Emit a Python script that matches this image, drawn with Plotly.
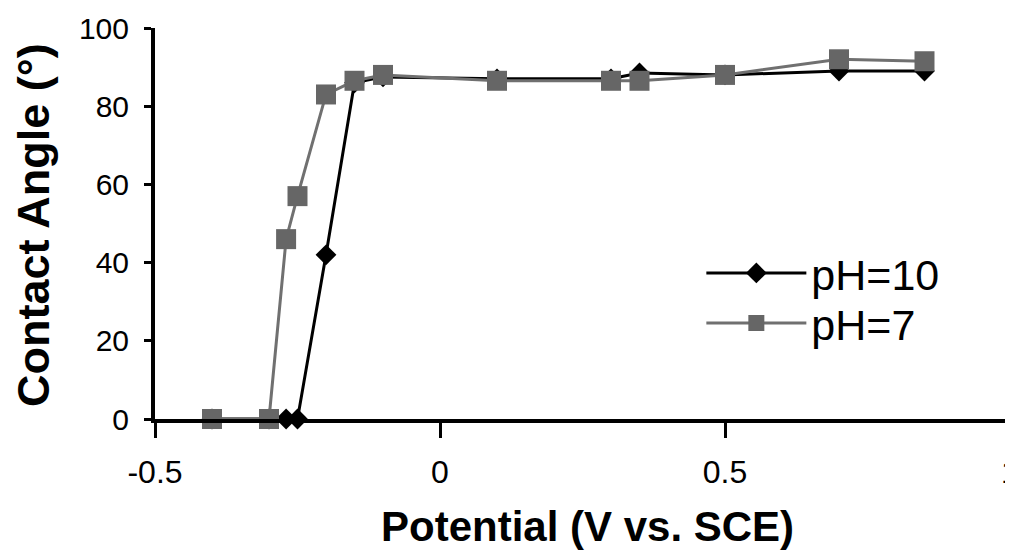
import plotly.graph_objects as go

# Data
potential_ph10 = [-0.4, -0.3, -0.27, -0.25, -0.2, -0.15, -0.1, 0.1, 0.3, 0.35, 0.5, 0.7, 0.85]
angle_ph10 = [0, 0, 0, 0, 42, 86, 87.5, 87, 87, 88.5, 88, 89, 89]

potential_ph7 = [-0.4, -0.3, -0.27, -0.25, -0.2, -0.15, -0.1, 0.1, 0.3, 0.35, 0.5, 0.7, 0.85]
angle_ph7 = [0, 0, 46, 57, 83, 86.5, 88, 86.5, 86.5, 86.5, 88, 92, 91.5]

x_ticks = [-0.5, 0, 0.5, 1]
x_tick_labels = ["-0.5", "0", "0.5", "1"]
y_ticks = [0, 20, 40, 60, 80, 100]

x_title = "<b>Potential (V vs. SCE)</b>"
y_title = "<b>Contact Angle (°)</b>"

FONT = "Liberation Sans, Arial, sans-serif"

fig = go.Figure()
fig.add_trace(go.Scatter(
    x=potential_ph10, y=angle_ph10, name="pH=10", mode="lines+markers",
    line=dict(color="#000000", width=3),
    marker=dict(symbol="diamond", size=16, color="#000000"),
    cliponaxis=False, legend="legend",
))
fig.add_trace(go.Scatter(
    x=potential_ph7, y=angle_ph7, name="pH=7", mode="lines+markers",
    line=dict(color="#707070", width=3),
    marker=dict(symbol="square", size=20, color="#666666"),
    cliponaxis=False, legend="legend2",
))

legend_style = dict(
    xanchor="left", yanchor="middle",
    font=dict(size=43, family=FONT, color="black"),
    bgcolor="rgba(0,0,0,0)", itemwidth=100, tracegroupgap=0,
)

fig.update_layout(
    width=1005, height=543,
    margin=dict(l=147, r=3, t=20, b=132, autoexpand=False),
    paper_bgcolor="white", plot_bgcolor="white",
    font=dict(family=FONT, color="black"),
    showlegend=True,
    legend=dict(x=0.639, y=0.3734, **legend_style),
    legend2=dict(x=0.639, y=0.2455, **legend_style),
    xaxis=dict(
        range=[-0.5, 1], tickvals=x_ticks, ticktext=x_tick_labels,
        showgrid=False, zeroline=False, automargin=False,
        showline=True, linecolor="black", linewidth=4,
        ticks="outside", ticklen=15, tickwidth=3, tickcolor="black",
        tickfont=dict(size=32, family=FONT, color="black"),
        ticklabelstandoff=7, ticklabeloverflow="allow",
    ),
    yaxis=dict(
        range=[0, 100], tickvals=y_ticks,
        showgrid=False, zeroline=False, automargin=False,
        showline=True, linecolor="black", linewidth=4,
        ticks="outside", ticklen=7, tickwidth=3, tickcolor="black",
        tickfont=dict(size=30, family=FONT, color="black"),
        ticklabelstandoff=9,
    ),
    annotations=[
        dict(text=x_title, xref="paper", yref="paper", x=0.5064, y=-0.2737,
             xanchor="center", yanchor="middle", showarrow=False,
             font=dict(size=42, family=FONT, color="black")),
        dict(text=y_title, xref="paper", yref="paper", x=-0.1427, y=0.496,
             xanchor="center", yanchor="middle", showarrow=False, textangle=-90,
             font=dict(size=45, family=FONT, color="black")),
    ],
)

fig.write_html("out.html")
